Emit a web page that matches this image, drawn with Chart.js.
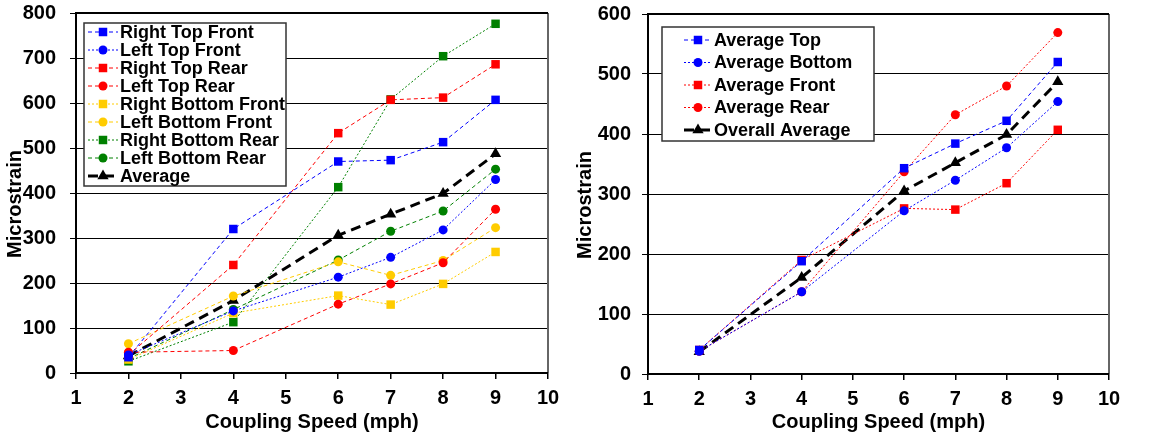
<!DOCTYPE html>
<html>
<head>
<meta charset="utf-8">
<script src="https://cdn.jsdelivr.net/npm/chart.js@4/dist/chart.umd.min.js"></script>
<style>
  html, body { margin: 0; padding: 0; background: #fff; }
  #wrap { position: relative; width: 1150px; height: 438px; }
  canvas { position: absolute; top: 0; }
  #left { left: 0; }
  #right { left: 575px; }
</style>
</head>
<body>
<div id="wrap">
  <canvas id="left" width="575" height="438"></canvas>
  <canvas id="right" width="575" height="438"></canvas>
</div>
<script>
// coupling speed (mph)
const speeds = [2, 4, 6, 7, 8, 9];

// left chart, microstrain per gauge
const rightTopFront    = [35, 320, 470, 473, 513, 607];
const leftTopFront     = [40, 138, 213, 257, 318, 430];
const rightTopRear     = [40, 240, 533, 607, 612, 686];
const leftTopRear      = [46, 50, 153, 198, 245, 364];
const rightBottomFront = [30, 133, 172, 152, 198, 269];
const leftBottomFront  = [65, 171, 247, 217, 250, 323];
const rightBottomRear  = [26, 113, 413, 608, 704, 776];
const leftBottomRear   = [32, 141, 251, 315, 360, 453];
const average          = [38, 161, 306, 353, 399, 487];

// right chart, averages
const avgTop     = [40, 188, 343, 384, 422, 520];
const avgBottom  = [38, 137, 272, 323, 377, 454];
const avgFront   = [40, 190, 276, 274, 318, 407];
const avgRear    = [38, 137, 337, 432, 480, 569];
const overallAvg = [37, 161, 305, 352, 399, 487];

const xTicks = [1, 2, 3, 4, 5, 6, 7, 8, 9, 10];
const leftYTicks = [0, 100, 200, 300, 400, 500, 600, 700, 800];
const rightYTicks = [0, 100, 200, 300, 400, 500, 600];

const FONT = '"Liberation Sans", Arial, sans-serif';
const BLUE = '#0000ff', RED = '#ff0000', YELLOW = '#ffcc00', GREEN = '#008000';
const DASH = [4, 3], DOT = [2, 2];

function pts(vals){
  return vals.map((v, i) => ({ x: speeds[i], y: v }));
}

function series(label, vals, color, style, dash, width){
  return {
    label,
    data: pts(vals),
    borderColor: color,
    backgroundColor: color,
    borderWidth: width || 1,
    borderDash: dash,
    pointStyle: style,
    pointRadius: style === 'triangle' ? 6.5 : (style === 'rect' ? 6 : 4.5),
    pointBorderWidth: 0,
    tension: 0
  };
}

// same sizes as Chart.js uses for its point styles
function drawMarker(ctx, style, x, y, r, color){
  ctx.save();
  ctx.fillStyle = color;
  ctx.beginPath();
  if(style === 'rect'){
    const s = r * Math.SQRT1_2;
    ctx.rect(x - s, y - s, 2 * s, 2 * s);
  } else if(style === 'triangle'){
    ctx.moveTo(x, y - r);
    ctx.lineTo(x + r * 0.866, y + r * 0.5);
    ctx.lineTo(x - r * 0.866, y + r * 0.5);
    ctx.closePath();
  } else {
    ctx.arc(x, y, r, 0, Math.PI * 2);
  }
  ctx.fill();
  ctx.restore();
}

// frame, y title and the legend box inside the plot
const boxLegend = {
  id: 'boxLegend',
  afterDatasetsDraw(chart, args, opts){
    const ctx = chart.ctx;
    const a = chart.chartArea;
    ctx.save();
    ctx.lineWidth = 2;
    ctx.strokeStyle = '#666';
    ctx.beginPath();
    ctx.moveTo(a.right, a.top); ctx.lineTo(a.right, a.bottom);
    ctx.stroke();
    ctx.strokeStyle = '#000';
    ctx.beginPath();
    ctx.moveTo(a.right, a.top); ctx.lineTo(a.left, a.top);
    ctx.lineTo(a.left, a.bottom); ctx.lineTo(a.right, a.bottom);
    ctx.stroke();

    // y axis title
    ctx.save();
    ctx.translate(opts.titleX, opts.titleY);
    ctx.rotate(-Math.PI / 2);
    ctx.font = 'bold 20px ' + FONT;
    ctx.fillStyle = '#000';
    ctx.textAlign = 'center';
    ctx.textBaseline = 'middle';
    ctx.fillText('Microstrain', 0, 0);
    ctx.restore();

    // legend
    ctx.fillStyle = '#fff';
    ctx.fillRect(opts.x, opts.y, opts.w, opts.h);
    ctx.lineWidth = 1.5;
    ctx.strokeStyle = '#333';
    ctx.strokeRect(opts.x, opts.y, opts.w, opts.h);

    ctx.font = 'bold ' + opts.fontSize + 'px ' + FONT;
    ctx.textBaseline = 'middle';
    chart.data.datasets.forEach((ds, i) => {
      const cy = opts.y + opts.first + i * opts.rowH;
      const x0 = opts.x + opts.lineX;
      const x1 = x0 + opts.lineW;
      ctx.save();
      ctx.strokeStyle = ds.borderColor;
      ctx.lineWidth = ds.borderWidth;
      ctx.setLineDash(ds.borderDash || []);
      ctx.beginPath();
      ctx.moveTo(x0, cy); ctx.lineTo(x1, cy);
      ctx.stroke();
      ctx.restore();
      drawMarker(ctx, ds.pointStyle, (x0 + x1) / 2, cy, ds.pointRadius, ds.borderColor);
      ctx.fillStyle = '#000';
      ctx.fillText(ds.label, x1 + 2, cy + 1);
    });
    ctx.restore();
  }
};

function makeOptions(cfg){
  return {
    responsive: false,
    animation: false,
    layout: { padding: { top: cfg.top, right: cfg.right, left: 0, bottom: 0 } },
    plugins: {
      legend: { display: false },
      tooltip: { enabled: false },
      boxLegend: cfg.legend
    },
    scales: {
      x: {
        type: 'linear',
        min: 1, max: 10,
        afterBuildTicks(scale){ scale.ticks = xTicks.map(v => ({ value: v })); },
        afterFit(scale){ scale.height = cfg.xHeight; scale.paddingLeft = 0; scale.paddingRight = 0; },
        grid: { display: true, drawOnChartArea: false, color: '#000', lineWidth: 1.5, tickLength: 6 },
        border: { display: false },
        ticks: { color: '#000', font: { family: FONT, size: 20, weight: 'bold' }, padding: 7, maxRotation: 0 },
        title: { display: true, text: 'Coupling Speed (mph)', color: '#000', font: { family: FONT, size: 20, weight: 'bold' }, padding: { top: 0, bottom: 4 } }
      },
      y: {
        min: 0, max: cfg.yMax,
        afterBuildTicks(scale){ scale.ticks = cfg.yTicks.map(v => ({ value: v })); },
        afterFit(scale){ scale.width = cfg.yWidth; scale.paddingTop = 0; scale.paddingBottom = 0; },
        grid: { color: '#000', lineWidth: 1, tickLength: 6 },
        border: { display: false },
        ticks: { color: '#000', font: { family: FONT, size: 20, weight: 'bold' }, padding: cfg.yPad }
      }
    }
  };
}

new Chart(document.getElementById('left'), {
  type: 'line',
  data: {
    datasets: [
      series('Right Top Front', rightTopFront, BLUE, 'rect', DASH),
      series('Left Top Front', leftTopFront, BLUE, 'circle', DOT),
      series('Right Top Rear', rightTopRear, RED, 'rect', DASH),
      series('Left Top Rear', leftTopRear, RED, 'circle', DASH),
      series('Right Bottom Front', rightBottomFront, YELLOW, 'rect', DOT),
      series('Left Bottom Front', leftBottomFront, YELLOW, 'circle', DASH),
      series('Right Bottom Rear', rightBottomRear, GREEN, 'rect', DOT),
      series('Left Bottom Rear', leftBottomRear, GREEN, 'circle', DASH),
      series('Average', average, '#000', 'triangle', [10, 6], 3)
    ]
  },
  options: makeOptions({
    top: 13, right: 27, yWidth: 76, xHeight: 65, yMax: 800, yTicks: leftYTicks, yPad: 14,
    legend: { x: 84, y: 23, w: 202, h: 163, first: 9, rowH: 18, lineX: 4, lineW: 30, fontSize: 18, titleX: 15, titleY: 204 }
  }),
  plugins: [boxLegend]
});

new Chart(document.getElementById('right'), {
  type: 'line',
  data: {
    datasets: [
      series('Average Top', avgTop, BLUE, 'rect', DASH),
      series('Average Bottom', avgBottom, BLUE, 'circle', DOT),
      series('Average Front', avgFront, RED, 'rect', DOT),
      series('Average Rear', avgRear, RED, 'circle', DOT),
      series('Overall Average', overallAvg, '#000', 'triangle', [10, 6], 3)
    ]
  },
  options: makeOptions({
    top: 14, right: 41, yWidth: 73, xHeight: 64, yMax: 600, yTicks: rightYTicks, yPad: 11,
    legend: { x: 87, y: 27, w: 212, h: 114, first: 13, rowH: 22.5, lineX: 22, lineW: 28, fontSize: 18, titleX: 10, titleY: 205 }
  }),
  plugins: [boxLegend]
});
</script>
</body>
</html>
